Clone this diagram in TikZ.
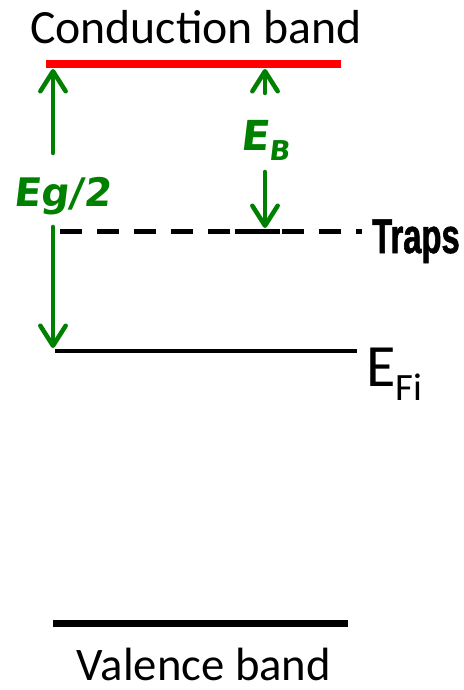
\documentclass[tikz,border=0pt]{standalone}
\usepackage{fontspec}
\setmainfont{Carlito}
\newfontfamily\labelfont{DejaVu Sans}[FakeSlant=0.12]
\newfontfamily\trapsfont{Liberation Sans}[FakeStretch=0.67,FakeBold=1.2]
\usepackage{xcolor}
\usetikzlibrary{arrows.meta}
\definecolor{bandred}{RGB}{255,0,0}
\definecolor{arrowgreen}{RGB}{0,128,0}

\begin{document}
\begin{tikzpicture}[
  x=0.75pt,y=-0.75pt,
  band/.style={line width=#1},
  trapline/.style={line width=3.75pt,dash pattern=on 16.5pt off 11.25pt},
  garrow/.style={arrowgreen,line width=3.4pt,line cap=round,
                 -{Straight Barb[length=15pt,width=19pt,round]}},
  glabel/.style={text=arrowgreen,inner sep=0pt,font=\labelfont\bfseries},
  txt/.style={inner sep=0pt}
]
\useasboundingbox (0,0) rectangle (464,690);
% band edges
\coordinate (cb-l) at (46,64);
\coordinate (cb-r) at (341,64);
\coordinate (tr-l) at (60,231);
\coordinate (tr-r) at (362,231);
\coordinate (tr-sl) at (235,231);
\coordinate (tr-sr) at (280,231);
\coordinate (fi-l) at (55,351);
\coordinate (fi-r) at (357,351);
\coordinate (vb-l) at (53,623);
\coordinate (vb-r) at (348,623);
% arrow ends
\coordinate (cb-a) at (53,69);
\coordinate (cb-b) at (265,69);
\coordinate (fi-a) at (53,348);
\coordinate (tr-b) at (265,228);
\coordinate (eg-up) at (53,153);
\coordinate (eg-dn) at (53,227);
\coordinate (eb-up) at (265,93);
\coordinate (eb-dn) at (265,172);
% labels
\node[txt,anchor=base] (cb-txt) at (196,43) {\fontsize{35.8}{42}\selectfont Conduction band};
\node[txt,anchor=base,text depth=0pt] (vb-txt) at (204,680) {\fontsize{35}{42}\selectfont Valence band};
\node[txt,anchor=base west] (traps) at (372,253) {\fontsize{36.7}{42}\trapsfont\bfseries Traps};
\node[txt,anchor=base west] (efi) at (366,386) {\fontsize{45}{54}\selectfont E\raisebox{-10.5pt}{\fontsize{29}{34}\selectfont Fi}};
\node[glabel,anchor=base] (eg) at (62,206) {\fontsize{29.5}{34}\selectfont Eg/2};
\node[glabel,anchor=base west] (eb) at (240,150) {\fontsize{31}{36}\selectfont E\raisebox{-7.5pt}{\fontsize{20.5}{24}\selectfont B}};
% levels
\draw[band=6pt,bandred] (cb-l) -- (cb-r);
\draw[trapline] (tr-l) -- (tr-r);
\draw[band=3.75pt] (tr-sl) -- (tr-sr);
\draw[band=3.4pt] (fi-l) -- (fi-r);
\draw[band=5.25pt] (vb-l) -- (vb-r);
% arrows
\draw[garrow] (eg-up) -- (cb-a);
\draw[garrow] (eg-dn) -- (fi-a);
\draw[garrow] (eb-up) -- (cb-b);
\draw[garrow] (eb-dn) -- (tr-b);
\end{tikzpicture}
\end{document}
